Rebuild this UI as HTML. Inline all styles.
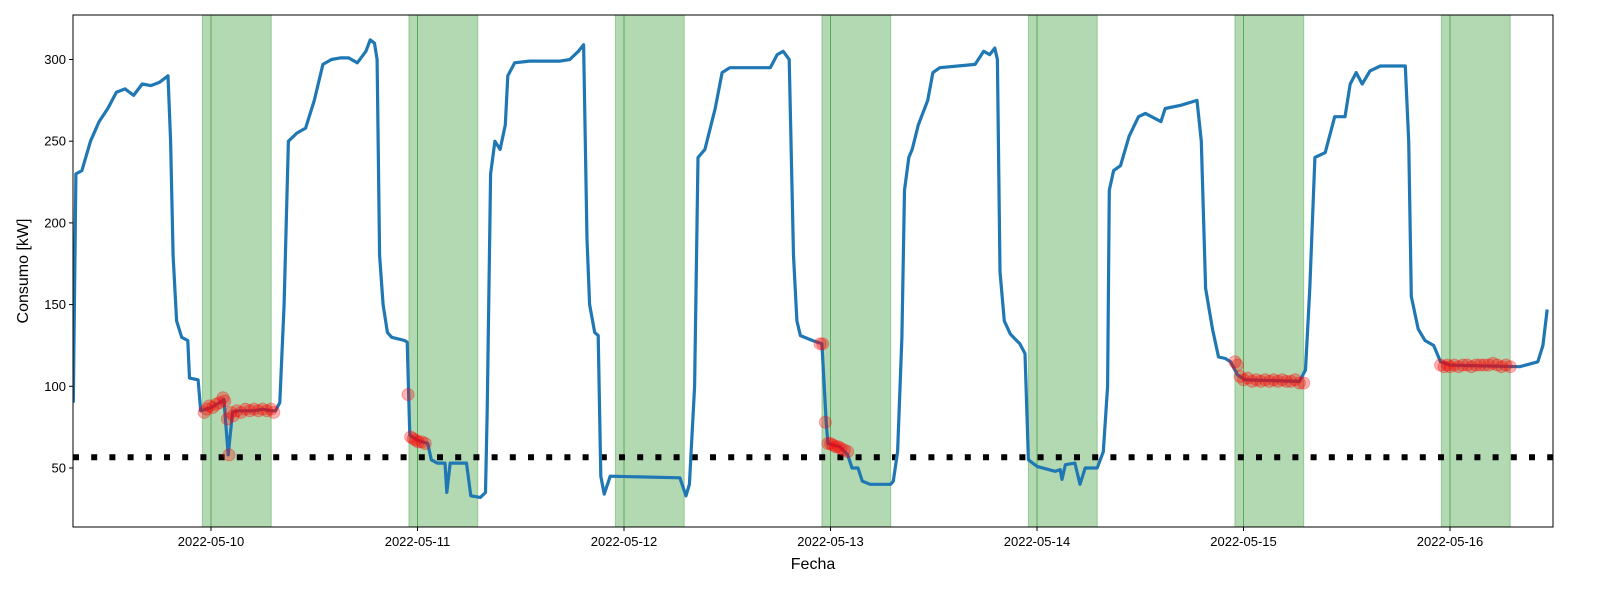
<!DOCTYPE html>
<html><head><meta charset="utf-8"><style>
body{margin:0;background:#fff;}
svg{display:block;font-family:"Liberation Sans","DejaVu Sans",sans-serif;}
</style></head><body>
<svg id="chart" width="1600" height="600"></svg>
<script>
// Hours from 2022-05-09 00:00
const seriesHours = [
8,8.3,9,10,11,12,13,14,15,16,17,18,19,19.3,19.6,20,20.6,21.3,21.5,22.5,22.8,
24,25,25.5,26,26.5,27,28,29,30,31,31.5,32,32.5,33,34,35,36,37,38,39,40,41,42,42.5,43,43.3,43.6,44,44.5,45,46.5,46.8,47.1,
48,49.2,49.6,50.3,51.2,51.4,51.8,53.7,54.2,55.3,55.9,56.1,56.5,57,57.6,58.2,58.5,59.3,61,64.6,65.7,66.7,67.3,67.7,68,68.6,69,69.3,69.7,70.4,78.5,79.2,79.6,80.2,80.6,81.4,82.6,83.4,84.3,89,89.8,90.5,91.2,91.7,92.1,92.5,93.9,95,95.5,95.7,
97.1,98,98.5,99.2,99.7,100.6,103,103.3,103.8,104.3,104.6,105.1,105.5,106.2,107.3,107.9,108.7,112.8,113.8,114.5,115.1,115.4,115.7,116.2,116.9,118,118.6,119,120,122.1,122.7,122.9,123.3,124.4,125,125.6,127,127.7,128.2,128.4,
128.9,129.7,130.7,131.8,132.6,134.4,134.9,136.7,138.6,139.1,139.6,140.4,141.1,141.9,142.5,143.3,144.2,150.5,151.2,151.7,152.3,153.5,154.6,155.8,156.4,157.1,157.8,158.7,159.9,162.8,163.2,163.5,164.3,165.1,166.1,166.9,168,176.1,178.2,178.8,179.3];
const seriesValues = [
90,230,232,250,262,270,280,282,278,285,284,286,290,250,180,140,130,128,105,104,85,
87,90,92,58,84,85,85,85,86,85,85,90,150,250,255,258,275,297,300,301,301,298,305,312,310,300,180,150,133,130,128,127,70,
67,65,55,53,53,35,53,53,33,32,35,85,230,250,245,260,290,298,299,299,300,305,309,190,150,133,131,45,34,45,44,33,40,100,240,245,270,292,295,295,303,305,300,180,140,131,128,126,78,65,
63,58,50,50,42,40,40,42,60,130,220,240,245,260,275,292,295,297,305,303,307,300,170,140,132,126,120,55,51,48,49,43,52,53,40,50,50,60,100,220,
232,235,253,265,267,262,270,272,275,250,160,135,118,117,115,107,104,103,110,160,240,243,265,265,285,292,285,293,296,296,250,155,135,128,125,115,113,112,115,125,147];
const anomalyHours = [
23.2,23.5,23.8,24.2,24.6,25,25.4,25.6,25.9,26.1,26.3,26.6,27,27.5,28,28.5,29,29.5,30,30.5,31,31.3,
46.9,47.2,47.5,47.8,48.1,48.5,48.9,
94.8,95.1,95.4,95.7,96,96.3,96.6,96.9,97.2,97.6,98,
143,143.3,143.6,144,144.5,145,145.5,146,146.5,147,147.5,148,148.5,149,149.5,150,150.5,151,
166.9,167.3,167.7,168,168.5,169,169.5,170,170.5,171,171.5,172,172.5,173,173.5,174,174.5,175];
const anomalyValues = [
84,86,88,87,89,90,93,91,80,58,84,82,85,84,86,85,86,85,86,85,86,84,
95,69,68,67,66,66,65,
126,126,78,65,65,64,63,63,62,61,60,
115,113,106,104,105,103,104,103,104,103,104,103,104,103,103,104,102,102,
113,112,113,112,113,112,113,113,112,113,113,113,113,114,113,112,113,112];
const nightStarts = [23,47,71,95,119,143,167];
const nightEnd = 8;
const threshold = 56.6;
const dayTicks = ["2022-05-10","2022-05-11","2022-05-12","2022-05-13","2022-05-14","2022-05-15","2022-05-16"];
const yTicks = [50,100,150,200,250,300];

const NS="http://www.w3.org/2000/svg";
const svg=document.getElementById('chart');
const L=73,R=1553,T=15,B=527;
const xS=h=>211+(h-24)*206.5/24;
const yS=v=>549.7-v*1.634;
function el(tag,attrs,parent){const e=document.createElementNS(NS,tag);for(const k in attrs)e.setAttribute(k,attrs[k]);(parent||svg).appendChild(e);return e;}
const defs=el('defs',{});
const cp=el('clipPath',{id:'clip'},defs);el('rect',{x:L,y:T,width:R-L,height:B-T},cp);
const g=el('g',{'clip-path':'url(#clip)'});

nightStarts.forEach((s,i)=>{
  const r=el('rect',{x:xS(s),y:T,width:xS(s+nightEnd)-xS(s),height:B-T,fill:'#008000','fill-opacity':0.3,stroke:'#008000','stroke-opacity':0.3},g);
  
  
  const ln=el('line',{x1:xS(s+1),x2:xS(s+1),y1:T,y2:B,stroke:'#008000','stroke-opacity':0.5,'stroke-width':1},g);
  
  
});
const th=el('line',{x1:L,x2:R,y1:yS(threshold),y2:yS(threshold),stroke:'#000','stroke-width':6,'stroke-dasharray':'6 12.2'},g);



const d=seriesHours.map((h,i)=>(i?'L':'M')+xS(h).toFixed(1)+','+yS(seriesValues[i]).toFixed(1)).join('');
const p=el('path',{d:d,fill:'none',stroke:'#1f77b4','stroke-width':3.2,'stroke-linejoin':'round'},g);



anomalyHours.forEach((h,i)=>{
  const c=el('circle',{cx:xS(h),cy:yS(anomalyValues[i]),r:6,fill:'#ff0000','fill-opacity':0.3,stroke:'#ff0000','stroke-opacity':0.3},g);
  
  
});

const frame=el('rect',{x:L,y:T,width:R-L,height:B-T,fill:'none',stroke:'#000','stroke-width':1});



dayTicks.forEach((t,i)=>{
  const x=xS(24*(i+1));
  el('line',{x1:x,x2:x,y1:B,y2:B+4,stroke:'#000'});
  const tx=el('text',{x:x,y:B+19,'text-anchor':'middle','font-size':13});
  tx.textContent=t;
  
  
});
yTicks.forEach(v=>{
  const y=yS(v);
  el('line',{x1:L-4,x2:L,y1:y,y2:y,stroke:'#000'});
  const tx=el('text',{x:L-7,y:y+4.5,'text-anchor':'end','font-size':13});
  tx.textContent=v;
  
  
});
const xl=el('text',{x:(L+R)/2,y:569,'text-anchor':'middle','font-size':16});
xl.textContent='Fecha';


const yl=el('text',{x:0,y:0,'text-anchor':'middle','font-size':16,transform:'translate(28,271) rotate(-90)'});
yl.textContent='Consumo [kW]';


</script>
</body></html>
